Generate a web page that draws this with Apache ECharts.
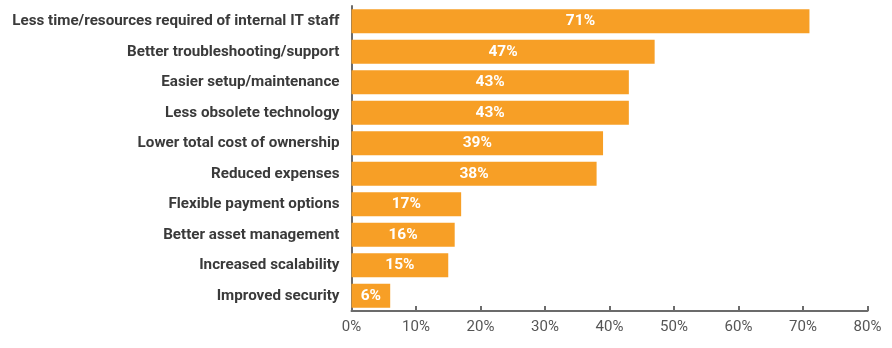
<!DOCTYPE html>
<html>
<head>
<meta charset="utf-8">
<script src="https://cdn.jsdelivr.net/npm/echarts@6/dist/echarts.min.js"></script>
<style>
  html, body { margin: 0; padding: 0; background: #fff; }
  #chart { width: 892px; height: 348px; }
</style>
</head>
<body>
<div id="chart"></div>
<script>
// Reasons listed top to bottom
const categories = [
  'Less time/resources required of internal IT staff',
  'Better troubleshooting/support',
  'Easier setup/maintenance',
  'Less obsolete technology',
  'Lower total cost of ownership',
  'Reduced expenses',
  'Flexible payment options',
  'Better asset management',
  'Increased scalability',
  'Improved security'
];
// Share of respondents, percent
const values = [71, 47, 43, 43, 39, 38, 17, 16, 15, 6];
// X axis range and step, percent
const axisMin = 0;
const axisMax = 80;
const axisStep = 10;

const chart = echarts.init(document.getElementById('chart'));
chart.setOption({
  animation: false,
  grid: { left: 351.5, right: 24.5, top: 6, bottom: 37, containLabel: false },
  xAxis: {
    type: 'value',
    min: axisMin,
    max: axisMax,
    interval: axisStep,
    axisLine: { show: true, lineStyle: { color: '#6b6b6b', width: 2 } },
    axisTick: { show: true, inside: true, length: 5, lineStyle: { color: '#6b6b6b', width: 2 } },
    splitLine: { show: false },
    axisLabel: {
      formatter: '{value}%',
      color: '#555',
      fontFamily: 'Roboto',
      fontSize: 15,
      margin: 9
    }
  },
  yAxis: {
    type: 'category',
    data: categories,
    inverse: true,
    axisLine: { show: true, lineStyle: { color: '#6b6b6b', width: 2 } },
    axisTick: { show: false },
    axisLabel: {
      color: '#3a3a3a',
      fontFamily: 'Roboto',
      fontWeight: 'bold',
      fontSize: 15.2,
      margin: 12
    }
  },
  series: [{
    type: 'bar',
    data: values,
    barCategoryGap: '21%',
    itemStyle: { color: '#F79F26' },
    label: {
      show: true,
      position: 'inside',
      formatter: '{c}%',
      color: '#fff',
      fontFamily: 'Roboto',
      fontWeight: 'bold',
      fontSize: 15.5
    }
  }]
});
</script>
</body>
</html>
